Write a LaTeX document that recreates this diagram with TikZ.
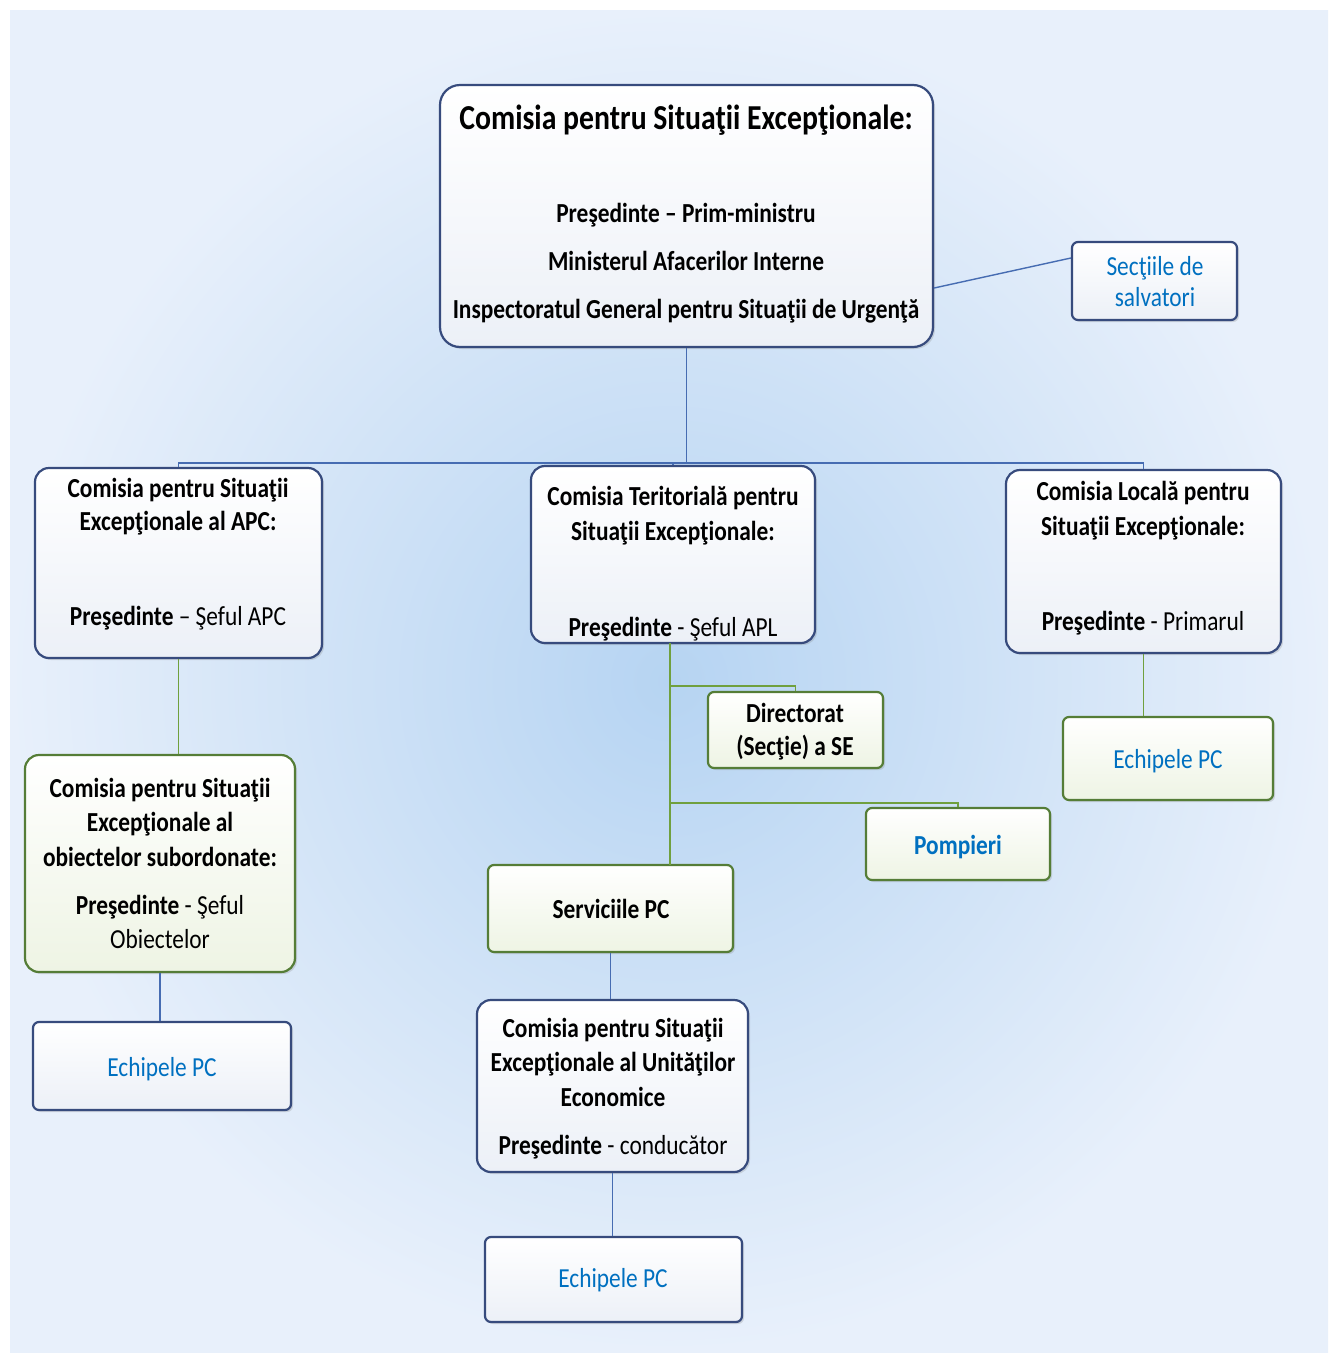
\documentclass[tikz,border=0pt]{standalone}
\usepackage{fontspec}
\setmainfont{Carlito}[FakeStretch=0.85]
\usetikzlibrary{shadows}
\definecolor{bgin}{RGB}{182,212,242}
\definecolor{bgout}{RGB}{232,240,251}
\definecolor{bbord}{RGB}{55,75,125}
\definecolor{gbord}{RGB}{85,125,55}
\definecolor{bline}{RGB}{70,108,178}
\definecolor{gline}{RGB}{112,160,62}
\definecolor{txtblue}{RGB}{0,112,192}
\definecolor{bfillb}{RGB}{236,240,247}
\definecolor{gfillb}{RGB}{238,244,228}
\newcommand\mkline[4]{\node[tx] (#1) at (#2,#3) {#4};}
\begin{document}
\begin{tikzpicture}[x=1pt,y=-1pt,
  boxb/.style={draw=bbord, line width=2.2pt, rounded corners=#1, top color=white, bottom color=bfillb,
    drop shadow={shadow xshift=2pt, shadow yshift=-2pt, opacity=0.25}, inner sep=0pt},
  boxb/.default=14pt,
  boxg/.style={draw=gbord, line width=2.2pt, rounded corners=#1, top color=white, bottom color=gfillb,
    drop shadow={shadow xshift=2pt, shadow yshift=-2pt, opacity=0.25}, inner sep=0pt},
  boxg/.default=14pt,
  bl/.style={draw=bline, line width=1.4pt},
  gl/.style={draw=gline, line width=1.4pt},
  tx/.style={anchor=mid, yshift=-7pt, inner sep=0pt, font=\fontsize{27.5}{31}\selectfont, text=black},
  blu/.style={text=txtblue}]
\useasboundingbox (0,0) rectangle (1330,1355);
\fill[white] (0,0) rectangle (1330,1355);
\shade[inner color=bgin, outer color=bgout] (10,10) rectangle (1328,1352);

% boxes
\node[boxb=20pt, minimum width=493pt, minimum height=262pt] (top) at (686.5,216) {};
\node[boxb=6pt, minimum width=165pt, minimum height=78pt] (sec) at (1154.5,281) {};
\node[boxb, minimum width=287pt, minimum height=190pt] (apc) at (178.5,563) {};
\node[boxb, minimum width=284pt, minimum height=177pt] (ter) at (673,554.5) {};
\node[boxb, minimum width=275pt, minimum height=183pt] (loc) at (1143.5,561.5) {};
\node[boxg, minimum width=270pt, minimum height=217pt] (obj) at (160,863.5) {};
\node[boxb=6pt, minimum width=258pt, minimum height=88pt] (ech1) at (162,1066) {};
\node[boxg=6pt, minimum width=175pt, minimum height=76pt] (dir) at (795.5,730) {};
\node[boxg=6pt, minimum width=184pt, minimum height=72pt] (pomp) at (958,844) {};
\node[boxg=6pt, minimum width=245pt, minimum height=87pt] (serv) at (610.5,908.5) {};
\node[boxb, minimum width=271pt, minimum height=172pt] (unit) at (612.5,1086) {};
\node[boxb=6pt, minimum width=257pt, minimum height=85pt] (ech2) at (613.5,1279.5) {};
\node[boxg=6pt, minimum width=210pt, minimum height=83pt] (ech3) at (1168,758.5) {};

% connectors
\coordinate (bus) at (686.5,463);
\draw[bl] (top.south) -- (bus);
\draw[bl] (apc.north) |- (bus) -| (loc.north);
\draw[bl] (ter.north) -- (ter.north |- bus);
\draw[bl] ([yshift=-72pt]top.east) -- ([yshift=23pt]sec.west);
\draw[gl] (apc.south) -- (apc.south |- obj.north);
\draw[bl] (obj.south) -- (obj.south |- ech1.north);
\coordinate (j1) at (670,686);
\coordinate (j2) at (670,803);
\draw[gl] (670,643) -- (670,865);
\draw[gl] (j1) -| (dir.north);
\draw[gl] (j2) -| (pomp.north);
\draw[bl] (serv.south) -- (serv.south |- unit.north);
\draw[bl] (unit.south) -- (unit.south |- ech2.north);
\draw[gl] (loc.south) -- (loc.south |- ech3.north);

% texts
\mkline{t1}{686}{120}{\fontsize{35}{39}\selectfont\bfseries Comisia pentru Situaţii Excepţionale:}
\mkline{t2}{686}{213}{\bfseries Preşedinte – Prim-ministru}
\mkline{t3}{686}{261}{\bfseries Ministerul Afacerilor Interne}
\mkline{t4}{686}{309}{\bfseries Inspectoratul General pentru Situaţii de Urgenţă}

\mkline{s1}{1155}{266}{\color{txtblue}Secţiile de}
\mkline{s2}{1155}{297}{\color{txtblue}salvatori}

\mkline{a1}{178}{488}{\bfseries Comisia pentru Situaţii}
\mkline{a2}{178}{521}{\bfseries Excepţionale al APC:}
\mkline{a3}{178}{616}{\textbf{Preşedinte} – Şeful APC}

\mkline{r1}{673}{496}{\bfseries Comisia Teritorială pentru}
\mkline{r2}{673}{531}{\bfseries Situaţii Excepţionale:}
\mkline{r3}{673}{627}{\textbf{Preşedinte} - Şeful APL}

\mkline{l1}{1143}{491}{\bfseries Comisia Locală pentru}
\mkline{l2}{1143}{526}{\bfseries Situaţii Excepţionale:}
\mkline{l3}{1143}{621}{\textbf{Preşedinte} - Primarul}

\mkline{o1}{160}{788}{\bfseries Comisia pentru Situaţii}
\mkline{o2}{160}{822}{\bfseries Excepţionale al}
\mkline{o3}{160}{857}{\bfseries obiectelor subordonate:}
\mkline{o4}{160}{905}{\textbf{Preşedinte} - Şeful}
\mkline{o5}{160}{939}{Obiectelor}

\mkline{e1}{162}{1067}{\color{txtblue}Echipele PC}

\mkline{d1}{795}{713}{\bfseries Directorat}
\mkline{d2}{795}{746}{\bfseries (Secţie) a SE}

\mkline{p1}{958}{845}{\bfseries\color{txtblue}Pompieri}

\mkline{v1}{611}{909}{\bfseries Serviciile PC}

\mkline{u1}{613}{1028}{\bfseries Comisia pentru Situaţii}
\mkline{u2}{613}{1062}{\bfseries Excepţionale al Unităţilor}
\mkline{u3}{613}{1097}{\bfseries Economice}
\mkline{u4}{613}{1145}{\textbf{Preşedinte} - conducător}

\mkline{e2}{613}{1278}{\color{txtblue}Echipele PC}
\mkline{e3}{1168}{759}{\color{txtblue}Echipele PC}
\end{tikzpicture}
\end{document}
